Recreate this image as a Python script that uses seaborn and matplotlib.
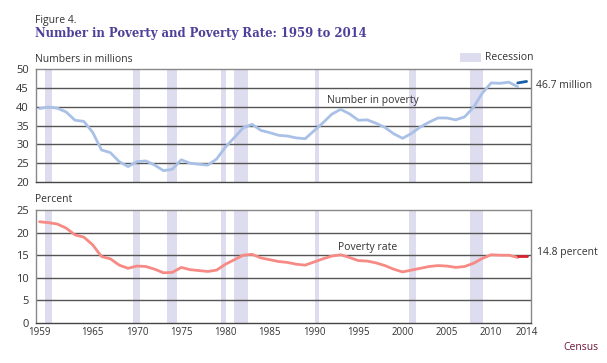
import numpy as np
import pandas as pd
import matplotlib
matplotlib.use("Agg")
import matplotlib.pyplot as plt
import seaborn as sns

# 연도별 빈곤 인구 (백만 명) 와 빈곤율 (%)
years = list(range(1959, 2014))
poverty_millions = [39.5, 39.9, 39.6, 38.6, 36.4, 36.1, 33.2, 28.5, 27.8, 25.4,
                    24.1, 25.4, 25.6, 24.5, 23.0, 23.4, 25.9, 25.0, 24.7, 24.5,
                    26.1, 29.3, 31.8, 34.4, 35.3, 33.7, 33.1, 32.4, 32.2, 31.7,
                    31.5, 33.6, 35.7, 38.0, 39.3, 38.1, 36.4, 36.5, 35.6, 34.5,
                    32.8, 31.6, 32.9, 34.6, 35.9, 37.0, 37.0, 36.5, 37.3, 39.8,
                    43.6, 46.3, 46.2, 46.5, 45.3]
poverty_rate = [22.4, 22.2, 21.9, 21.0, 19.5, 19.0, 17.3, 14.7, 14.2, 12.8,
                12.1, 12.6, 12.5, 11.9, 11.1, 11.2, 12.3, 11.8, 11.6, 11.4,
                11.7, 13.0, 14.0, 15.0, 15.2, 14.4, 14.0, 13.6, 13.4, 13.0,
                12.8, 13.5, 14.2, 14.8, 15.1, 14.5, 13.8, 13.7, 13.3, 12.7,
                11.9, 11.3, 11.7, 12.1, 12.5, 12.7, 12.6, 12.3, 12.5, 13.2,
                14.3, 15.1, 15.0, 15.0, 14.5]

# 2013년 설문 개편 이후 값
new_years = [2013, 2014]
new_millions = [46.3, 46.7]
new_rate = [14.8, 14.8]

# 경기 침체 구간 (그림 기준 위치)
recession_start = [1959.6, 1969.5, 1973.4, 1979.5, 1981.0, 1990.1, 2000.7, 2007.6]
recession_end = [1960.4, 1970.4, 1974.5, 1980.1, 1982.5, 1990.6, 2001.5, 2009.1]

xtick_years = [1959, 1965, 1970, 1975, 1980, 1985, 1990, 1995, 2000, 2005, 2010, 2014]

sns.set_style("white")
plt.rcParams['font.family'] = ['Open Sans', 'DejaVu Sans']

old_df = pd.DataFrame({'year': years, 'millions': poverty_millions, 'rate': poverty_rate})
new_df = pd.DataFrame({'year': new_years, 'millions': new_millions, 'rate': new_rate})

fig = plt.figure(figsize=(6.07, 3.63), dpi=100)
ax1 = fig.add_axes([0.0593, 0.4986, 0.8155, 0.3113])
ax2 = fig.add_axes([0.0593, 0.1102, 0.8155, 0.3113])

shade = '#dedcef'
grid_c = '#555555'

def style_axis(ax, ylim, yticks, show_xlabels):
    for s, e in zip(recession_start, recession_end):
        ax.axvspan(s, e, color=shade, lw=0, zorder=0)
    ax.set_xlim(1958.6, 2014.5)
    ax.set_ylim(*ylim)
    ax.set_yticks(yticks)
    for y in yticks[1:-1]:
        ax.axhline(y, color=grid_c, lw=1, zorder=1)
    ax.set_xticks(xtick_years)
    ax.set_xticks(range(1959, 2015), minor=True)
    ax.tick_params(axis='x', which='both', direction='in', length=3, width=0.8,
                   color='#444444', labelsize=7, pad=3, labelcolor='#333333')
    ax.tick_params(axis='y', which='both', length=0, labelsize=8, pad=5, labelcolor='#333333')
    if not show_xlabels:
        ax.set_xticklabels([])
    for side in ['top', 'right', 'left']:
        ax.spines[side].set_color('#888888')
        ax.spines[side].set_linewidth(1)
    ax.spines['bottom'].set_color('#444444')
    ax.spines['bottom'].set_linewidth(1)
    ax.set_xlabel('')
    ax.set_ylabel('')

sns.lineplot(data=old_df, x='year', y='millions', ax=ax1, color='#a9c1e6', lw=2, zorder=3)
sns.lineplot(data=new_df, x='year', y='millions', ax=ax1, color='#1a5ea8', lw=2, zorder=4)
style_axis(ax1, (20, 50), [20, 25, 30, 35, 40, 45, 50], False)

sns.lineplot(data=old_df, x='year', y='rate', ax=ax2, color='#f78a84', lw=2, zorder=3)
sns.lineplot(data=new_df, x='year', y='rate', ax=ax2, color='#d9242f', lw=2, zorder=4)
style_axis(ax2, (0, 25), [0, 5, 10, 15, 20, 25], True)

ax1.text(1996.6, 41.6, 'Number in poverty', fontsize=7.5, color='#333333', ha='center', va='center')
ax2.text(1996.1, 16.7, 'Poverty rate', fontsize=7.5, color='#333333', ha='center', va='center')

fig.text(536 / 607, 1 - 85 / 363, '46.7 million', fontsize=7.5, color='#333333', va='center')
fig.text(537 / 607, 1 - 253 / 363, '14.8 percent', fontsize=7.5, color='#333333', va='center')

fig.text(35 / 607, 1 - 20 / 363, 'Figure 4.', fontsize=7.5, color='#333333', va='center')
fig.text(35 / 607, 1 - 33 / 363, 'Number in Poverty and Poverty Rate: 1959 to 2014',
         fontsize=8.4, fontweight='bold', family=['DejaVu Serif'], color='#4e3f98', va='center')
fig.text(35 / 607, 1 - 60 / 363, 'Numbers in millions', fontsize=7.5, color='#333333', va='center')
fig.text(35 / 607, 1 - 200 / 363, 'Percent', fontsize=7.5, color='#333333', va='center')

# 범례: 경기 침체
fig.patches.append(matplotlib.patches.Rectangle((460 / 607, 1 - 62 / 363), 21 / 607, 9 / 363,
                                                transform=fig.transFigure, color=shade, lw=0))
fig.text(485 / 607, 1 - 57 / 363, 'Recession', fontsize=7.5, color='#333333', va='center')

fig.text(563 / 607, 1 - 348 / 363, 'Census', fontsize=7.5, color='#6b1538', va='center')

fig.savefig('out.png', dpi=100)
